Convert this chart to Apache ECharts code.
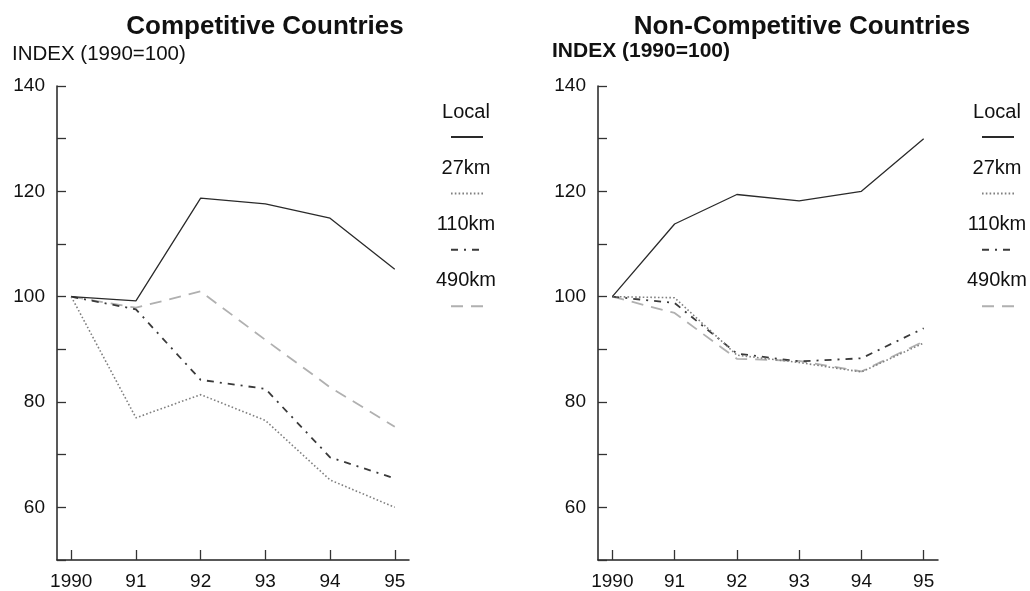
<!DOCTYPE html>
<html>
<head>
<meta charset="utf-8">
<script src="https://cdn.jsdelivr.net/npm/echarts@6/dist/echarts.min.js"></script>
<style>
html,body{margin:0;padding:0;background:#fff;}
#chart{width:1030px;height:591px;}
</style>
</head>
<body>
<div id="chart"></div>
<script>
// ---- data ----
const years = [1990, 1991, 1992, 1993, 1994, 1995];
const seriesNames = ['Local', '27km', '110km', '490km'];
const yTickValues = [60, 80, 100, 120, 140];

const compLocal = [100, 99.2, 118.7, 117.6, 114.9, 105.2];
const comp27 = [100, 77.0, 81.4, 76.5, 65.2, 60.0];
const comp110 = [100, 97.6, 84.2, 82.5, 69.5, 65.5];
const comp490 = [100, 97.9, 101.0, 91.8, 82.8, 75.3];

const nonLocal = [100, 113.8, 119.4, 118.2, 120.0, 130.0];
const non27 = [100, 99.8, 88.9, 87.5, 85.7, 91.2];
const non110 = [100, 98.8, 89.2, 87.7, 88.3, 94.0];
const non490 = [100, 96.9, 88.2, 87.8, 85.8, 91.5];

const chartTitles = ['Competitive Countries', 'Non-Competitive Countries'];
const axisTitle = 'INDEX (1990=100)';

// ---- styles ----
const FONT = "'Liberation Sans', Arial, sans-serif";
const styles = {
  'Local': { color: '#2a2a2a', width: 1.3, type: 'solid' },
  '27km': { color: '#808080', width: 1.6, type: [1.6, 2.2] },
  '110km': { color: '#3a3a3a', width: 1.8, type: [7, 6, 2, 6] },
  '490km': { color: '#b0b0b0', width: 1.8, type: [12, 8] }
};

const panelData = [
  [compLocal, comp27, comp110, comp490],
  [nonLocal, non27, non110, non490]
];

const grids = [
  { left: 57, top: 86, width: 352, height: 476 },
  { left: 598, top: 86, width: 340, height: 476 }
];
const xRanges = [[1989.78, 1995.22], [1989.77, 1995.23]];

const axisLineStyle = { color: '#222', width: 1.5 };

const xAxes = grids.map((g, i) => ({
  type: 'value',
  gridIndex: i,
  min: xRanges[i][0],
  max: xRanges[i][1],
  axisLine: { show: true, lineStyle: axisLineStyle },
  axisTick: { show: true, inside: true, length: 10, customValues: years, lineStyle: { color: '#333', width: 1.3 } },
  axisLabel: {
    customValues: years,
    margin: 12,
    fontFamily: FONT, fontSize: 19, color: '#111',
    formatter: v => (Math.round(v) === 1990 ? '1990' : String(Math.round(v)).slice(2))
  },
  splitLine: { show: false }
}));

const yAxes = grids.map((g, i) => ({
  type: 'value',
  gridIndex: i,
  min: 50,
  max: 140,
  interval: 10,
  axisLine: { show: true, lineStyle: axisLineStyle },
  axisTick: { show: true, inside: true, length: 9, lineStyle: { color: '#333', width: 1.3 } },
  axisLabel: {
    margin: 12,
    fontFamily: FONT, fontSize: 19, color: '#111',
    formatter: v => (yTickValues.indexOf(v) >= 0 ? String(v) : '')
  },
  splitLine: { show: false }
}));

const series = [];
panelData.forEach((arrs, p) => {
  arrs.forEach((vals, k) => {
    const name = seriesNames[k];
    const st = styles[name];
    series.push({
      name: name,
      type: 'line',
      xAxisIndex: p,
      yAxisIndex: p,
      data: years.map((y, j) => [y, vals[j]]),
      symbol: 'none',
      silent: true,
      animation: false,
      lineStyle: { color: st.color, width: st.width, type: st.type },
      itemStyle: { color: st.color },
      z: 10 - k
    });
  });
});

const legendTextCenters = [466, 997];
const legends = [];
legendTextCenters.forEach(c => {
  // text part
  legends.push({
    orient: 'vertical',
    left: c - 40,
    top: 97,
    data: seriesNames,
    icon: 'rect',
    itemWidth: 0,
    itemHeight: 20,
    itemGap: 36,
    itemStyle: { opacity: 0 },
    selectedMode: false,
    formatter: '{t|{name}}',
    textStyle: {
      rich: { t: { width: 60, align: 'center', fontFamily: FONT, fontSize: 20, color: '#111', lineHeight: 20 } }
    }
  });
  // line-sample part
  legends.push({
    orient: 'vertical',
    left: c - 21,
    top: 127,
    data: seriesNames,
    itemWidth: 32,
    itemHeight: 10,
    itemGap: 47.4,
    itemStyle: { opacity: 0 },
    selectedMode: false,
    formatter: () => '',
    textStyle: { fontSize: 1 }
  });
});

const option = {
  backgroundColor: '#fff',
  animation: false,
  title: [
    { text: chartTitles[0], left: 260, top: 9, textAlign: 'center',
      textStyle: { fontFamily: FONT, fontSize: 26, fontWeight: 'bold', color: '#111' } },
    { text: chartTitles[1], left: 797, top: 9, textAlign: 'center',
      textStyle: { fontFamily: FONT, fontSize: 26, fontWeight: 'bold', color: '#111' } },
    { text: axisTitle, left: 7, top: 39,
      textStyle: { fontFamily: FONT, fontSize: 20.5, fontWeight: 'normal', color: '#111' } },
    { text: axisTitle, left: 547, top: 36,
      textStyle: { fontFamily: FONT, fontSize: 21, fontWeight: 'bold', color: '#111' } }
  ],
  grid: grids,
  xAxis: xAxes,
  yAxis: yAxes,
  legend: legends,
  series: series
};

const chart = echarts.init(document.getElementById('chart'), null, { renderer: 'canvas' });
chart.setOption(option);
</script>
</body>
</html>
